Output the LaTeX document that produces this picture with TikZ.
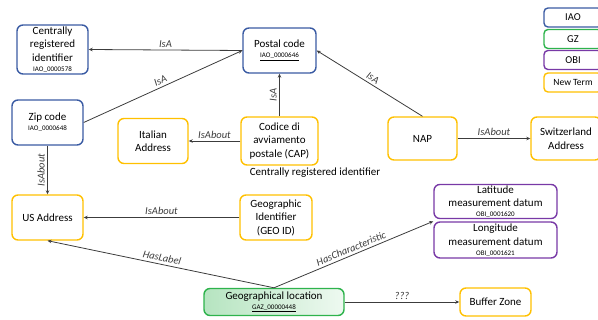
\documentclass[tikz,border=0pt]{standalone}
\usepackage{fontspec}
\setmainfont{Carlito}
\usetikzlibrary{arrows.meta}
\definecolor{iaoblue}{HTML}{3A5BA3}
\definecolor{gzgreen}{HTML}{2EB34C}
\definecolor{obipurple}{HTML}{7839A6}
\definecolor{newyellow}{HTML}{FFC000}
\definecolor{linegray}{HTML}{3C3C3C}
\newcommand{\tid}[1]{\\[-3.5pt]{\fontsize{7}{7.5}\selectfont #1}}

\begin{document}
\begin{tikzpicture}[x=1pt, y=-1pt,
	term/.style={draw, rectangle, rounded corners=6pt, line width=1.4pt, align=center, inner sep=1pt, font=\fontsize{11}{13.5}\selectfont},
	iao/.style={term, draw=iaoblue},
	gz/.style={term, draw=gzgreen},
	obi/.style={term, draw=obipurple},
	newterm/.style={term, draw=newyellow},
	key/.style={draw, rectangle, rounded corners=4pt, line width=1.4pt, minimum width=58pt, minimum height=19pt, inner sep=0pt, font=\fontsize{10.5}{11}\selectfont},
	rel/.style={-{Stealth[length=4pt, width=3.5pt]}, draw=linegray, line width=0.8pt},
	lbl/.style={font=\fontsize{10.5}{12}\selectfont\itshape, text=linegray, inner sep=2.5pt}]
				\useasboundingbox (0,0) rectangle (598,320);
				\clip (0,0) rectangle (598,320);
				\node[key, draw=iaoblue] (KIAO)at(573, 17.5) {IAO};
				\node[key, draw=gzgreen] (KGZ)at(573, 39) {GZ};
				\node[key, draw=obipurple] (KOBI)at(573, 60) {OBI};
				\node[key, draw=newyellow, font=\fontsize{9.5}{10}\selectfont] (KNEW)at(573, 82.5) {New Term};
				\node[iao, minimum width=71pt, minimum height=49pt] (CRI)at(52.5, 49.5) {Centrally\\registered\\identifier\tid{IAO\_0000578}};
				\node[iao, minimum width=73pt, minimum height=45pt] (PC)at(279.5, 50.5) {Postal code\tid{\underline{IAO\_0000646}}};
				\node[iao, minimum width=71pt, minimum height=45pt] (ZIP)at(47.5, 122.5) {Zip code\tid{IAO\_0000648}};
				\node[newterm, minimum width=70pt, minimum height=45pt] (IT)at(153, 141) {Italian\\Address};
				\node[newterm, minimum width=77pt, minimum height=48pt] (CAP)at(279.5, 141) {Codice di\\avviamento\\postale (CAP)};
				\node[font=\fontsize{11}{13}\selectfont] (CAPNOTE)at(315, 173) {Centrally registered identifier};
				\node[newterm, minimum width=69pt, minimum height=43pt] (NAP)at(422.5, 138.5) {NAP};
				\node[newterm, minimum width=70pt, minimum height=43pt] (CH)at(566, 138.5) {Switzerland\\Address};
				\node[newterm, minimum width=71pt, minimum height=45pt] (US)at(47.5, 217.5) {US Address};
				\node[newterm, minimum width=72pt, minimum height=45pt] (GEO)at(276, 217.5) {Geographic\\Identifier\\(GEO ID)};
				\node[obi, minimum width=123pt, minimum height=33pt] (LAT)at(495.5, 201.5) {Latitude\\measurement datum\tid{OBI\_0001620}};
				\node[obi, minimum width=123pt, minimum height=36pt] (LON)at(495.5, 240) {Longitude\\measurement datum\tid{OBI\_0001621}};
				\node[gz, left color=gzgreen!35, right color=gzgreen!8, minimum width=140pt, minimum height=27pt] (GL)at(274, 302) {Geographical location\tid{\underline{GAZ\_00000448}}};
				\node[newterm, minimum width=71pt, minimum height=28pt] (BZ)at(495.5, 302) {Buffer Zone};
				\draw[rel] (PC.west) -- node[lbl, above]{IsA} (CRI.east);
				\draw[rel] (ZIP.east) -- node[lbl, above, sloped]{IsA} (PC.west);
				\draw[rel] (CAP.north) -- node[lbl, above, sloped]{IsA} (PC.south);
				\draw[rel] (NAP.north) -- node[lbl, above, sloped]{IsA} (PC.east);
				\draw[rel] (CAP.west) -- node[lbl, above]{IsAbout} (IT.east);
				\draw[rel] (NAP.east) -- node[lbl, above]{IsAbout} (CH.west);
				\draw[rel] (ZIP.south) -- node[lbl, rotate=90, anchor=south]{IsAbout} (US.north);
				\draw[rel] (GEO.west) -- node[lbl, above]{IsAbout} (US.east);
				\draw[rel] (GL.north) -- node[lbl, above, sloped]{HasLabel} (US.south);
				\draw[rel] (GL.north) -- node[lbl, above, sloped]{HasCharacteristic} (LON.north west);
				\draw[rel] (GL.east) -- node[lbl, above]{???} (BZ.west);
			\end{tikzpicture}
\end{document}
